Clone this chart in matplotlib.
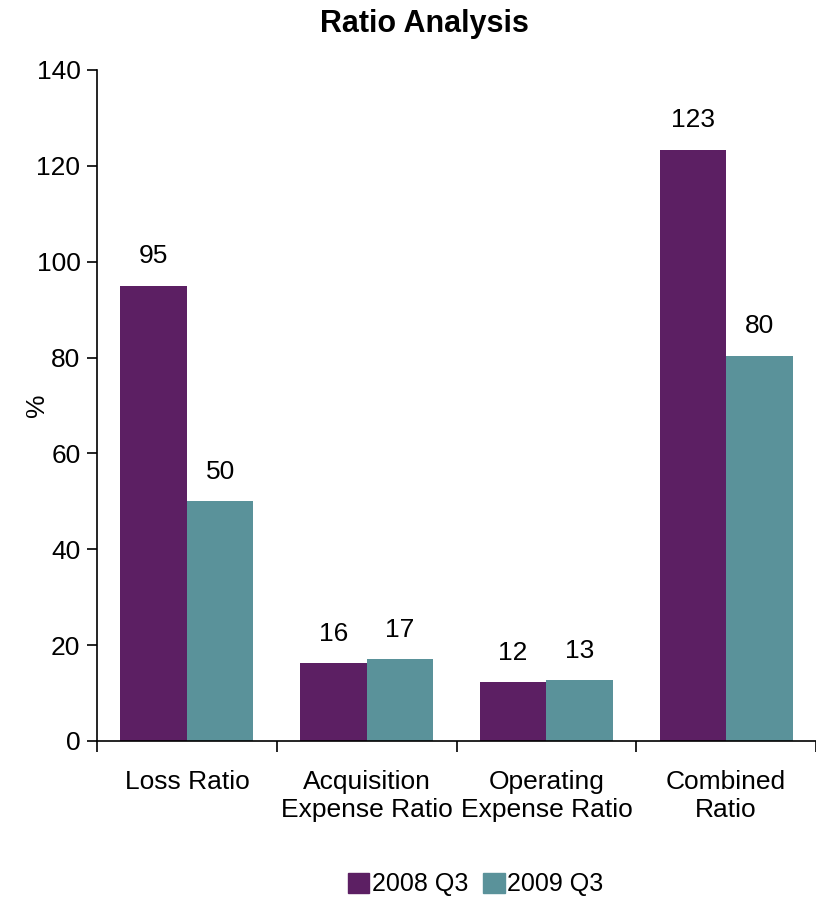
import numpy as np
import matplotlib.pyplot as plt
from matplotlib.patches import Patch

plt.rcParams['font.family'] = ['Liberation Sans', 'DejaVu Sans']

# Data
categories = ['Loss Ratio', 'Acquisition\nExpense Ratio', 'Operating\nExpense Ratio', 'Combined\nRatio']
q3_2008 = [95.0, 16.3, 12.3, 123.4]
q3_2009 = [50.0, 17.1, 12.7, 80.4]
series_names = ['2008 Q3', '2009 Q3']
colors = ['#5C1F63', '#5A929A']

fs = 19

fig = plt.figure(figsize=(8.16, 8.97), dpi=100)
ax = fig.add_axes([0.119, 0.174, 0.881, 0.748])

x = np.arange(len(categories))
w = 0.37
b1 = ax.bar(x - w / 2, q3_2008, w, color=colors[0])
b2 = ax.bar(x + w / 2, q3_2009, w, color=colors[1])

for bars, vals in [(b1, q3_2008), (b2, q3_2009)]:
    for bar, v in zip(bars, vals):
        ax.text(bar.get_x() + bar.get_width() / 2, v + 3.6, f'{v:.0f}',
                ha='center', va='bottom', fontsize=fs)

ax.set_xlim(-0.5, len(categories) - 0.5)
ax.set_ylim(0, 140)
ax.set_yticks(range(0, 141, 20))
ax.set_ylabel('%', fontsize=fs)
ax.yaxis.set_label_coords(-0.067, 0.5)
fig.suptitle('Ratio Analysis', fontsize=22, fontweight='bold', x=0.52, y=0.99, va='top')

# category boundaries as ticks, labels at centers
ax.set_xticks(np.arange(-0.5, len(categories), 1.0))
ax.set_xticklabels([])
ax.set_xticks(x, minor=True)
ax.set_xticklabels(categories, minor=True, fontsize=fs, linespacing=1.2)
ax.tick_params(axis='x', which='minor', length=0, pad=21)
ax.tick_params(axis='x', which='major', length=8, width=1.2, direction='out')
ax.tick_params(axis='y', labelsize=fs, length=7, width=1.2, pad=5)

for s in ['top', 'right']:
    ax.spines[s].set_visible(False)
for s in ['left', 'bottom']:
    ax.spines[s].set_linewidth(1.2)

handles = [Patch(color=c) for c in colors]
fig.legend(handles, series_names, loc='center', bbox_to_anchor=(0.583, 0.014),
           ncol=2, frameon=False, fontsize=18, handlelength=0.85, handleheight=0.85,
           handletextpad=0.1, columnspacing=0.6)

fig.savefig('out.png', dpi=100)
